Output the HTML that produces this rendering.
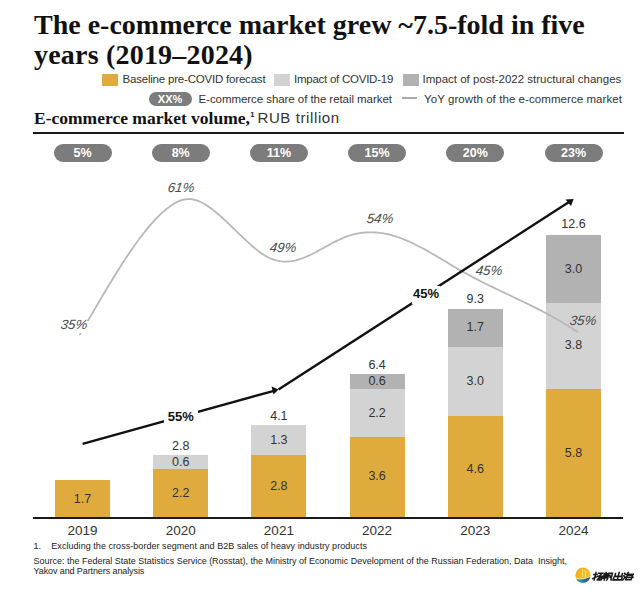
<!DOCTYPE html>
<html><head><meta charset="utf-8">
<style>
html,body{margin:0;padding:0;background:#fff;}
body{width:640px;height:590px;position:relative;overflow:hidden;font-family:"Liberation Sans",sans-serif;color:#333;}
.a{position:absolute;white-space:nowrap;}
.title{font-family:"Liberation Serif",serif;font-weight:bold;font-size:28px;color:#111;line-height:29px;left:34px;}
.leg{font-size:11.5px;color:#333;line-height:14px;}
.sw{position:absolute;width:16px;height:12px;}
.pill{position:absolute;background:#7c7c7c;color:#fff;font-weight:bold;font-size:12.5px;text-align:center;border-radius:9px;height:18px;line-height:18px;width:58px;top:144.3px;}
.bar{position:absolute;width:55px;}
.o{background:#dfab3c;}
.l{background:#d3d3d3;}
.d{background:#b2b2b2;}
.lab{position:absolute;width:55px;text-align:center;font-size:12.5px;color:#333;line-height:14px;}
.yr{position:absolute;width:80px;text-align:center;font-size:13.5px;color:#333;top:523px;line-height:16px;}
.it{position:absolute;width:34px;height:16px;text-align:center;font-style:italic;font-size:13.3px;color:#4a4a4a;line-height:16px;transform:skewX(-8deg);}
.bl{position:absolute;font-weight:bold;font-size:13px;color:#111;text-align:center;line-height:15px;}
.fn{font-size:9px;color:#222;line-height:10.5px;}
</style></head><body>
<div class="a title" style="top:10px">The e-commerce market grew ~7.5-fold in five</div>
<div class="a title" style="top:40px;letter-spacing:0.2px">years (2019–2024)</div>

<div class="sw o" style="left:102px;top:74px"></div>
<div class="a leg" style="left:122.5px;top:72px;letter-spacing:-0.2px">Baseline pre-COVID forecast</div>
<div class="sw l" style="left:274px;top:74px"></div>
<div class="a leg" style="left:294px;top:72px;letter-spacing:-0.25px">Impact of COVID-19</div>
<div class="sw d" style="left:402.6px;top:74px"></div>
<div class="a leg" style="left:422.5px;top:72px">Impact of post-2022 structural changes</div>

<div class="pill" style="left:148.6px;top:92px;width:43px;height:14px;line-height:14px;font-size:11px;border-radius:7px;">XX%</div>
<div class="a leg" style="left:198.5px;top:92px;letter-spacing:-0.06px">E-commerce share of the retail market</div>
<div class="a" style="left:402.4px;top:97px;width:15px;height:1.6px;background:#aaa"></div>
<div class="a leg" style="left:424px;top:92px;letter-spacing:0.07px">YoY growth of the e-commerce market</div>

<div class="a" style="left:34px;top:108.5px;font-family:'Liberation Serif',serif;font-weight:bold;font-size:17.5px;color:#111;line-height:19px">E-commerce market volume,</div>
<div class="a" style="left:250.3px;top:111px;font-family:'Liberation Sans',sans-serif;font-weight:bold;font-size:7.5px;color:#111;line-height:8px">1</div>
<div class="a" style="left:257.5px;top:108.5px;font-size:15px;color:#333;line-height:17px;letter-spacing:0.6px">RUB trillion</div>
<div class="a" style="left:33px;top:132.4px;width:591px;height:2px;background:#1a1a1a"></div>

<div class="pill" style="left:53.5px">5%</div>
<div class="pill" style="left:151.7px">8%</div>
<div class="pill" style="left:249.9px">11%</div>
<div class="pill" style="left:348.1px">15%</div>
<div class="pill" style="left:446.3px">20%</div>
<div class="pill" style="left:544.5px">23%</div>

<svg class="a" style="left:0;top:0" width="640" height="590" shape-rendering="crispEdges">
<rect x="55" y="480" width="55" height="38.6" fill="#dfab3c"/>
<rect x="153.2" y="468.3" width="55" height="50.3" fill="#dfab3c"/>
<rect x="153.2" y="455" width="55" height="13.9" fill="#d3d3d3"/>
<rect x="251.4" y="454.7" width="55" height="63.9" fill="#dfab3c"/>
<rect x="251.4" y="424.7" width="55" height="30.6" fill="#d3d3d3"/>
<rect x="349.6" y="436.6" width="55" height="82.0" fill="#dfab3c"/>
<rect x="349.6" y="388.2" width="55" height="49.0" fill="#d3d3d3"/>
<rect x="349.6" y="374" width="55" height="14.8" fill="#b2b2b2"/>
<rect x="447.8" y="415.8" width="55" height="102.8" fill="#dfab3c"/>
<rect x="447.8" y="346.7" width="55" height="69.7" fill="#d3d3d3"/>
<rect x="447.8" y="308.6" width="55" height="38.7" fill="#b2b2b2"/>
<rect x="546" y="388.5" width="55" height="130.1" fill="#dfab3c"/>
<rect x="546" y="302.2" width="55" height="86.9" fill="#d3d3d3"/>
<rect x="546" y="234.5" width="55" height="68.3" fill="#b2b2b2"/>
</svg>

<div class="a" style="left:33px;top:517.1px;width:590px;height:1.8px;background:#1a1a1a"></div>

<svg class="a" style="left:0;top:0" width="640" height="590" viewBox="0 0 640 590">
  <path d="M79.6,335.1 L81.6,331.6 L83.6,328.2 L85.6,324.8 L87.6,321.3 L89.6,317.9 L91.6,314.5 L93.6,311.0 L95.6,307.6 L97.6,304.2 L99.6,300.8 L101.6,297.4 L103.6,294.0 L105.6,290.7 L107.6,287.3 L109.6,284.0 L111.6,280.7 L113.6,277.5 L115.6,274.2 L117.6,271.0 L119.6,267.9 L121.6,264.7 L123.6,261.6 L125.6,258.6 L127.6,255.6 L129.6,252.6 L131.6,249.7 L133.6,246.8 L135.6,244.0 L137.6,241.2 L139.6,238.5 L141.6,235.9 L143.6,233.3 L145.6,230.7 L147.6,228.3 L149.6,225.9 L151.6,223.6 L153.6,221.3 L155.6,219.2 L157.6,217.1 L159.6,215.1 L161.6,213.2 L163.6,211.4 L165.6,209.7 L167.6,208.1 L169.6,206.6 L171.6,205.2 L173.6,203.9 L175.6,202.8 L177.6,201.8 L179.6,200.9 L181.6,200.2 L183.6,199.7 L185.6,199.3 L187.6,199.1 L189.6,199.1 L191.6,199.2 L193.6,199.6 L195.6,200.1 L197.6,200.7 L199.6,201.5 L201.6,202.5 L203.6,203.5 L205.6,204.7 L207.6,206.0 L209.6,207.4 L211.6,208.8 L213.6,210.4 L215.6,212.0 L217.6,213.7 L219.6,215.4 L221.6,217.2 L223.6,219.0 L225.6,220.8 L227.6,222.7 L229.6,224.6 L231.6,226.5 L233.6,228.5 L235.6,230.4 L237.6,232.3 L239.6,234.3 L241.6,236.2 L243.6,238.1 L245.6,240.0 L247.6,241.8 L249.6,243.7 L251.6,245.5 L253.6,247.2 L255.6,248.9 L257.6,250.4 L259.6,252.0 L261.6,253.4 L263.6,254.7 L265.6,255.9 L267.6,257.0 L269.6,258.0 L271.6,258.8 L273.6,259.6 L275.6,260.2 L277.6,260.7 L279.6,261.1 L281.6,261.4 L283.6,261.6 L285.6,261.6 L287.6,261.6 L289.6,261.4 L291.6,261.2 L293.6,260.8 L295.6,260.4 L297.6,259.8 L299.6,259.2 L301.6,258.5 L303.6,257.8 L305.6,257.0 L307.6,256.1 L309.6,255.2 L311.6,254.2 L313.6,253.2 L315.6,252.2 L317.6,251.1 L319.6,250.0 L321.6,249.0 L323.6,247.9 L325.6,246.8 L327.6,245.7 L329.6,244.6 L331.6,243.5 L333.6,242.4 L335.6,241.4 L337.6,240.4 L339.6,239.5 L341.6,238.6 L343.6,237.7 L345.6,236.9 L347.6,236.2 L349.6,235.5 L351.6,234.9 L353.6,234.4 L355.6,233.9 L357.6,233.5 L359.6,233.2 L361.6,232.9 L363.6,232.6 L365.6,232.5 L367.6,232.4 L369.6,232.3 L371.6,232.3 L373.6,232.4 L375.6,232.5 L377.6,232.6 L379.6,232.8 L381.6,233.1 L383.6,233.4 L385.6,233.8 L387.6,234.2 L389.6,234.7 L391.6,235.2 L393.6,235.8 L395.6,236.4 L397.6,237.0 L399.6,237.7 L401.6,238.5 L403.6,239.2 L405.6,240.1 L407.6,240.9 L409.6,241.8 L411.6,242.7 L413.6,243.7 L415.6,244.7 L417.6,245.7 L419.6,246.7 L421.6,247.8 L423.6,248.8 L425.6,249.9 L427.6,251.0 L429.6,252.2 L431.6,253.3 L433.6,254.5 L435.6,255.6 L437.6,256.8 L439.6,258.0 L441.6,259.2 L443.6,260.4 L445.6,261.6 L447.6,262.8 L449.6,264.0 L451.6,265.2 L453.6,266.4 L455.6,267.5 L457.6,268.7 L459.6,269.9 L461.6,271.0 L463.6,272.1 L465.6,273.2 L467.6,274.3 L469.6,275.4 L471.6,276.5 L473.6,277.6 L475.6,278.6 L477.6,279.6 L479.6,280.7 L481.6,281.7 L483.6,282.7 L485.6,283.7 L487.6,284.7 L489.6,285.7 L491.6,286.6 L493.6,287.6 L495.6,288.6 L497.6,289.5 L499.6,290.5 L501.6,291.5 L503.6,292.4 L505.6,293.4 L507.6,294.3 L509.6,295.3 L511.6,296.2 L513.6,297.2 L515.6,298.1 L517.6,299.1 L519.6,300.0 L521.6,301.0 L523.6,302.0 L525.6,302.9 L527.6,303.9 L529.6,304.9 L531.6,305.9 L533.6,306.9 L535.6,307.9 L537.6,308.9 L539.6,309.9 L541.6,310.9 L543.6,312.0 L545.6,313.0 L547.6,314.1 L549.6,315.2 L551.6,316.3 L553.6,317.4 L555.6,318.5 L557.6,319.7 L559.6,320.8 L561.6,322.0 L563.6,323.2 L565.6,324.4 L567.6,325.6 L569.6,326.9 L571.6,328.1 L573.6,329.4 L575.6,330.7 L577.6,332.1 L578.1,332.4" fill="none" stroke="#b8b8b8" stroke-width="1.8" stroke-linejoin="round"/>
  <path d="M82.6,443.9 L274,390.8" fill="none" stroke="#111" stroke-width="2.4"/>
  <path d="M278.5,389.5 L271.5,386.5 L273.5,394.5 Z" fill="#111"/>
  <path d="M278.5,389.5 L569,202" fill="none" stroke="#111" stroke-width="2.4"/>
  <path d="M573.6,199.1 L565.5,199.5 L571,206 Z" fill="#111"/>
</svg>

<div class="bl" style="left:163.7px;top:408.5px;width:34.3px;background:#fff">55%</div>
<div class="bl" style="left:412px;top:286px;width:28px;height:18px;background:#fff;line-height:15px;padding-top:0">45%</div>

<div class="a" style="left:58.8px;top:321.1px;width:30px;height:12px;background:#fff"></div>
<div class="it" style="left:56.8px;top:317.3px;">35%</div>
<div class="it" style="left:163.9px;top:179.6px;">61%</div>
<div class="it" style="left:265.9px;top:239.6px;">49%</div>
<div class="it" style="left:363.2px;top:210.8px;">54%</div>
<div class="it" style="left:472.4px;top:263.4px;">45%</div>
<div class="it" style="left:566.2px;top:312.5px;">35%</div>

<div class="lab" style="left:55px;top:491.9px">1.7</div>
<div class="lab" style="left:153.2px;top:438.7px">2.8</div>
<div class="lab" style="left:153.2px;top:455.3px">0.6</div>
<div class="lab" style="left:153.2px;top:486.1px">2.2</div>
<div class="lab" style="left:251.4px;top:409px">4.1</div>
<div class="lab" style="left:251.4px;top:432.7px">1.3</div>
<div class="lab" style="left:251.4px;top:479.4px">2.8</div>
<div class="lab" style="left:349.6px;top:357.5px">6.4</div>
<div class="lab" style="left:349.6px;top:374.1px">0.6</div>
<div class="lab" style="left:349.6px;top:406.1px">2.2</div>
<div class="lab" style="left:349.6px;top:469px">3.6</div>
<div class="lab" style="left:447.8px;top:291.5px">9.3</div>
<div class="lab" style="left:447.8px;top:320.3px">1.7</div>
<div class="lab" style="left:447.8px;top:373.9px">3.0</div>
<div class="lab" style="left:447.8px;top:461.7px">4.6</div>
<div class="lab" style="left:546px;top:217.2px">12.6</div>
<div class="lab" style="left:546px;top:261.6px">3.0</div>
<div class="lab" style="left:546px;top:337.5px">3.8</div>
<div class="lab" style="left:546px;top:445.5px">5.8</div>

<div class="yr" style="left:42.5px">2019</div>
<div class="yr" style="left:140.7px">2020</div>
<div class="yr" style="left:238.9px">2021</div>
<div class="yr" style="left:337.1px">2022</div>
<div class="yr" style="left:435.3px">2023</div>
<div class="yr" style="left:533.5px">2024</div>

<div class="a fn" style="left:33.5px;top:540.5px">1.</div>
<div class="a fn" style="left:51.3px;top:540.5px;letter-spacing:0.047px">Excluding the cross-border segment and B2B sales of heavy industry products</div>
<div class="a fn" style="left:33.5px;top:555.5px;letter-spacing:-0.01px">Source: the Federal State Statistics Service (Rosstat), the Ministry of Economic Development of the Russian Federation, Data &nbsp;Insight,</div>
<div class="a fn" style="left:33.5px;top:566px;letter-spacing:-0.1px">Yakov and Partners analysis</div>


<svg class="a" style="left:570px;top:562px" width="70" height="28" viewBox="570 562 70 28">
  <defs>
    <linearGradient id="sun" x1="0" y1="0" x2="1" y2="1">
      <stop offset="0" stop-color="#f2a81c"/><stop offset="0.6" stop-color="#f0c02a"/><stop offset="1" stop-color="#e8b020"/>
    </linearGradient>
    <linearGradient id="sea" x1="0" y1="0" x2="1" y2="0">
      <stop offset="0" stop-color="#39a0c8"/><stop offset="1" stop-color="#1d4e6e"/>
    </linearGradient>
  </defs>
  <circle cx="583" cy="575.2" r="7.6" fill="url(#sun)"/>
  <path d="M576.2,579 Q583,580.5 590.3,577 Q588.5,582.8 583,582.8 Q578,582.8 576.2,579 Z" fill="url(#sea)"/>
  <path d="M576.5,578.6 Q583,580 590,576.6" stroke="#cfeee0" stroke-width="0.8" fill="none"/><path d="M582.5,569 L582.5,577 M584.5,570 Q587,573 585,577" stroke="#f8e070" stroke-width="1" fill="none"/>
  <g transform="translate(594,572.3) skewX(-14)" stroke="#1a1a1a" stroke-width="1.55" fill="none" stroke-linecap="square">
    <g>
      <path d="M0.4,2.3 H3.6 M2.1,0.3 V7.6 M0.4,6.2 L3.8,4.6 M4.8,0.9 H8.8 L6.2,3.6 M4.8,3.9 H9.4 V6.6 Q9.4,7.9 8.1,7.6 M7.0,4.1 L5.2,7.6 M8.4,4.4 L6.9,7.6"/>
    </g>
    <g transform="translate(10.3,0)">
      <path d="M0.4,1.5 V6 M0.4,1.5 H3.4 V5.4 M1.9,0.2 V7.8 M4.9,1 V6.2 Q4.9,7.4 4.3,7.8 M4.9,1 H8.4 V7 Q8.4,7.8 9.4,7.8 M6.4,3.1 L7.1,4.9"/>
    </g>
    <g transform="translate(20.4,0)">
      <path d="M4.8,0.2 V7.8 M1.4,1.3 V4.1 H8.3 V1.3 M0.7,4.9 V7.6 H9 V4.9"/>
    </g>
    <g transform="translate(30.4,0)">
      <path d="M0.5,0.9 L1.3,1.8 M0.3,3.4 L1.1,4.3 M0.4,7.6 L1.7,5.4 M3.9,0.3 L3,2.1 H9.4 M3.6,3 H8.9 L8.5,7.5 H3.1 Z M2.6,5.1 H9.8"/>
    </g>
  </g>
</svg>
</body></html>
